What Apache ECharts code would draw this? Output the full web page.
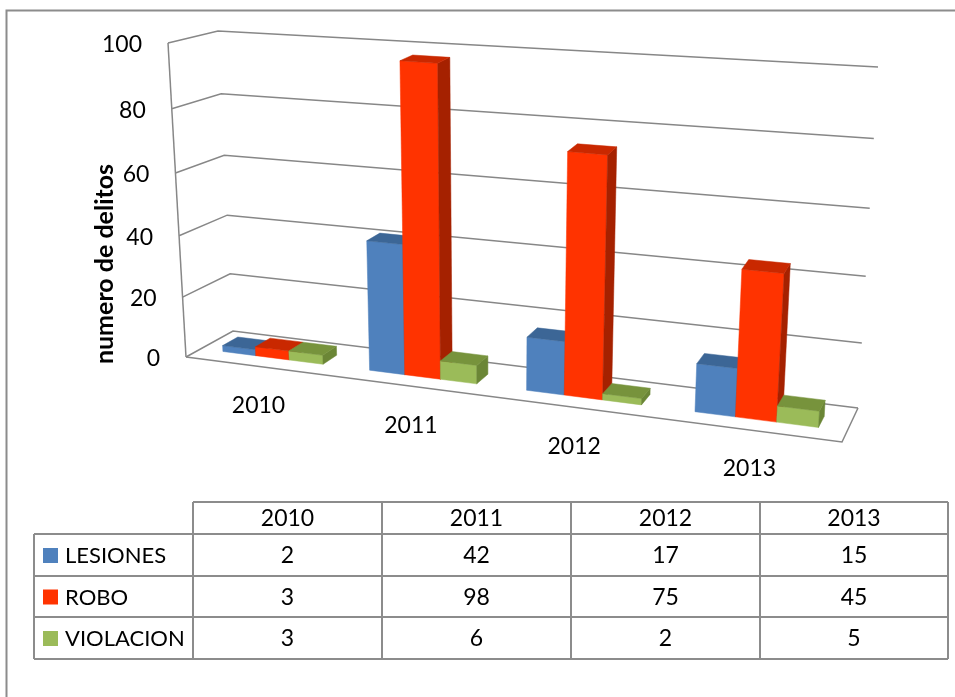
<!DOCTYPE html>
<html>
<head>
<meta charset="utf-8">
<style>html,body{margin:0;padding:0;background:#fff}#main{width:955px;height:697px}</style>
<script src="https://cdn.jsdelivr.net/npm/echarts@6/dist/echarts.min.js"></script>
</head>
<body>
<div id="main"></div>
<script>
// numero de delitos por año
var categories = ['2010', '2011', '2012', '2013'];
var seriesNames = ['LESIONES', 'ROBO', 'VIOLACION'];
var lesiones = [2, 42, 17, 15];
var robo = [3, 98, 75, 45];
var violacion = [3, 6, 2, 5];
var yTicks = [0, 20, 40, 60, 80, 100];

var valores = [lesiones, robo, violacion];
// caras: frontal, lateral, superior
var colores = [
	['#4f81bd', '#385d8a', '#3c6696'],
	['#ff3300', '#a52100', '#c92800'],
	['#9bbb59', '#6b8636', '#77933c']
];

// esquinas de la caja 3d, clave = x y z
var esq = {
	'000': [186, 357], '010': [168, 43], '001': [233, 331], '011': [218, 31],
	'100': [842, 442], '110': [864, 95], '101': [858, 408], '111': [878, 67]
};

function proj(X, V, Z) {
	var a = X / (X + 1.15 * (1 - X));
	var b = V / (V + 1.06 * (1 - V));
	var px = 0, py = 0;
	for (var i = 0; i < 2; i++) for (var j = 0; j < 2; j++) for (var k = 0; k < 2; k++) {
		var w = (i ? a : 1 - a) * (j ? b : 1 - b) * (k ? Z : 1 - Z);
		var c = esq['' + i + j + k];
		px += w * c[0];
		py += w * c[1];
	}
	return [px, py];
}

// pasa de pixel del grid oculto a coordenadas 0..1
function norm(params, api, cat, val) {
	var cs = params.coordSys;
	var p = api.coord([cat, val]);
	return [(p[0] - cs.x) / cs.width, (cs.y + cs.height - p[1]) / cs.height];
}

var FONT = 'Lato';
var GRIS = '#878787';
var Z0 = 0.32, Z1 = 0.65, ANCHO = 0.23;

function barra(s) {
	return function (params, api) {
		var n = norm(params, api, api.value(0), api.value(1));
		var bw = api.size([1, 0])[0] / params.coordSys.width * ANCHO;
		var x0 = n[0] + (s - 1.5) * bw, x1 = x0 + bw, v = n[1];
		var col = colores[s];
		function poly(pts, c) {
			return { type: 'polygon', shape: { points: pts }, style: { fill: c, stroke: c, lineWidth: 0.5 } };
		}
		return {
			type: 'group',
			children: [
				poly([proj(x0, 0, Z0), proj(x1, 0, Z0), proj(x1, v, Z0), proj(x0, v, Z0)], col[0]),
				poly([proj(x1, 0, Z0), proj(x1, 0, Z1), proj(x1, v, Z1), proj(x1, v, Z0)], col[1]),
				poly([proj(x0, v, Z0), proj(x1, v, Z0), proj(x1, v, Z1), proj(x0, v, Z1)], col[2])
			]
		};
	};
}

var series = [];

// lineas de division, paredes y etiquetas del eje
series.push({
	type: 'custom',
	coordinateSystem: 'cartesian2d',
	clip: false,
	silent: true,
	data: yTicks.map(function (t) { return [0, t]; }),
	renderItem: function (params, api) {
		var t = api.value(1);
		var v = norm(params, api, 0, t)[1];
		var a = proj(0, v, 0);
		var kids = [{
			type: 'polyline',
			shape: { points: [a, proj(0, v, 1), proj(1, v, 1)] },
			style: { stroke: GRIS, lineWidth: 1.5, fill: null }
		}, {
			type: 'text',
			style: {
				text: String(t), x: a[0] - 26, y: a[1] + 2,
				align: 'right', verticalAlign: 'middle',
				fontSize: 23, fontFamily: FONT, fill: '#000'
			}
		}];
		if (t === 0) {
			kids.push({
				type: 'polyline',
				shape: { points: [a, proj(1, 0, 0), proj(1, 0, 1)] },
				style: { stroke: GRIS, lineWidth: 1.5, fill: null }
			});
			kids.push({
				type: 'line',
				shape: { x1: a[0], y1: a[1], x2: proj(0, 1, 0)[0], y2: proj(0, 1, 0)[1] },
				style: { stroke: GRIS, lineWidth: 1.5 }
			});
		}
		return { type: 'group', children: kids };
	}
});

// etiquetas de categorias
series.push({
	type: 'custom',
	coordinateSystem: 'cartesian2d',
	clip: false,
	silent: true,
	data: categories.map(function (c, i) { return [i, 0]; }),
	renderItem: function (params, api) {
		var n = norm(params, api, api.value(0), 0);
		var p = proj(n[0], 0, 0);
		return {
			type: 'text',
			style: {
				text: categories[params.dataIndex], x: p[0], y: p[1] + 39,
				align: 'center', verticalAlign: 'middle',
				fontSize: 23, fontFamily: FONT, fill: '#000'
			}
		};
	}
});

valores.forEach(function (arr, s) {
	series.push({
		name: seriesNames[s],
		type: 'custom',
		coordinateSystem: 'cartesian2d',
		clip: false,
		data: arr.map(function (v, i) { return [i, v]; }),
		renderItem: barra(s)
	});
});

// tabla de datos
var colX = [34, 193, 382, 571, 760, 948];
var rowY = [502, 534, 576, 617, 659];
var TGRIS = '#8c8c8c';
var graficos = [];

graficos.push({
	type: 'polyline',
	shape: { points: [[6.5, 697], [6.5, 10.5], [955, 10.5]] },
	style: { stroke: TGRIS, lineWidth: 2, fill: null }
});
graficos.push({
	type: 'text',
	x: 105, y: 264, rotation: Math.PI / 2,
	style: {
		text: 'numero de delitos', align: 'center', verticalAlign: 'middle',
		fontSize: 25, fontWeight: 'bold', fontFamily: FONT, fill: '#000'
	}
});

rowY.forEach(function (y, r) {
	graficos.push({
		type: 'line',
		shape: { x1: r === 0 ? colX[1] : colX[0], y1: y, x2: colX[5], y2: y },
		style: { stroke: TGRIS, lineWidth: 2 }
	});
});
colX.forEach(function (x, c) {
	graficos.push({
		type: 'line',
		shape: { x1: x, y1: c === 0 ? rowY[1] : rowY[0], x2: x, y2: rowY[4] },
		style: { stroke: TGRIS, lineWidth: 2 }
	});
});
categories.forEach(function (cat, c) {
	graficos.push({
		type: 'text',
		style: {
			text: cat, x: (colX[c + 1] + colX[c + 2]) / 2, y: (rowY[0] + rowY[1]) / 2 + 1,
			align: 'center', verticalAlign: 'middle', fontSize: 23, fontFamily: FONT, fill: '#000'
		}
	});
});
valores.forEach(function (arr, s) {
	var ym = (rowY[s + 1] + rowY[s + 2]) / 2 + 1;
	graficos.push({
		type: 'rect',
		shape: { x: 43, y: ym - 8, width: 15, height: 15 },
		style: { fill: colores[s][0] }
	});
	graficos.push({
		type: 'text',
		style: {
			text: seriesNames[s], x: 65, y: ym,
			align: 'left', verticalAlign: 'middle', fontSize: 22, fontFamily: FONT, fill: '#000'
		}
	});
	arr.forEach(function (v, c) {
		graficos.push({
			type: 'text',
			style: {
				text: String(v), x: (colX[c + 1] + colX[c + 2]) / 2, y: ym,
				align: 'center', verticalAlign: 'middle', fontSize: 23, fontFamily: FONT, fill: '#000'
			}
		});
	});
});

var myChart = echarts.init(document.getElementById('main'));
var option = {
	backgroundColor: '#fff',
	animation: false,
	grid: { left: 0, top: 0, width: 400, height: 400, show: false },
	xAxis: { type: 'category', data: categories, show: false },
	yAxis: { type: 'value', min: 0, max: 100, show: false },
	series: series,
	graphic: graficos
};
myChart.setOption(option);
</script>
</body>
</html>
